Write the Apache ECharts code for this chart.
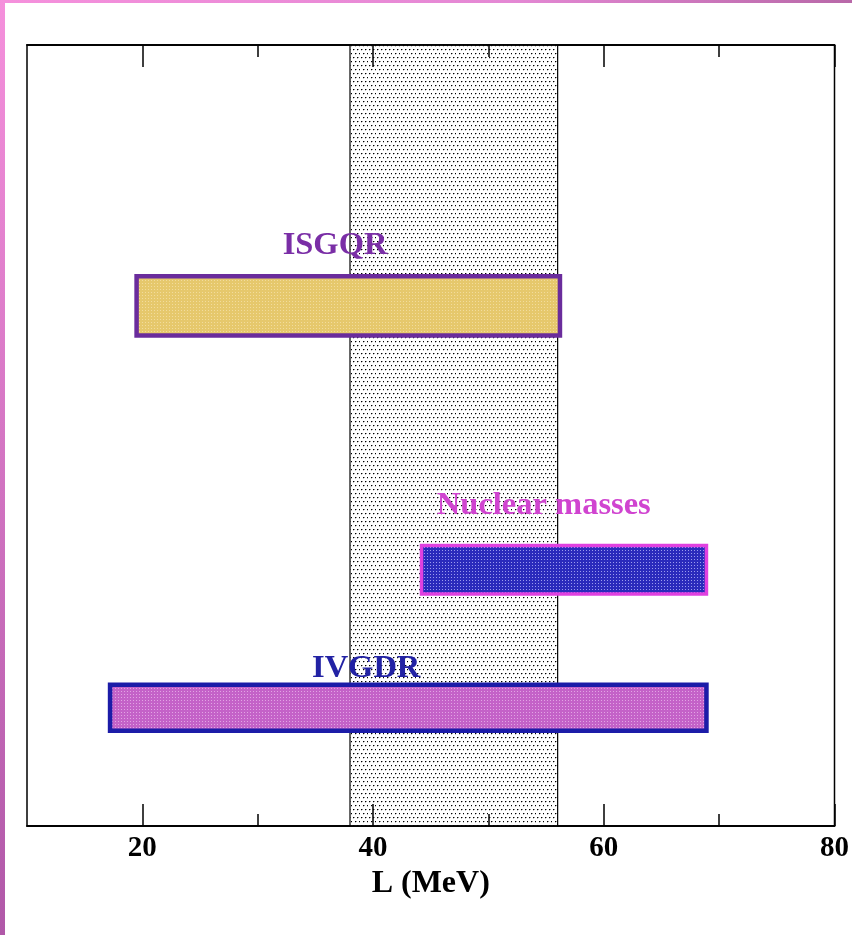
<!DOCTYPE html>
<html>
<head>
<meta charset="utf-8">
<script src="https://cdn.jsdelivr.net/npm/echarts@6/dist/echarts.min.js"></script>
<style>
html,body{margin:0;padding:0;background:#fff;}
#chart{width:852px;height:935px;}
</style>
</head>
<body>
<div id="chart"></div>
<script>
// ---- data ----
const categories = ['ISGQR', 'Nuclear masses', 'IVGDR'];
const lowL = [19.5, 44.2, 17.2];
const highL = [56.2, 68.9, 68.9];
const yLow = [6.28, 2.97, 1.22];
const yHigh = [7.04, 3.59, 1.81];
const labelL = [36.7, 54.8, 39.4];
const labelY = [7.43, 4.10, 2.01];
const bandRange = [38, 56];
const majorTicks = [20, 40, 60, 80];
const minorTicks = [30, 50, 70];
const xMin = 10, xMax = 80;

// ---- styles ----
const borderColors = ['#6a2c9c', '#e040e0', '#1c1ca8'];
const labelColors = ['#7a2ea6', '#d044d0', '#2222a4'];
const fillBase = ['#e6c86c', '#2a2abc', '#c462c8'];
const fillLight = ['#f2dc9c', '#9a9aee', '#e2a4e4'];

function gridPattern(base, light) {
  const c = document.createElement('canvas');
  c.width = 3; c.height = 3;
  const g = c.getContext('2d');
  g.fillStyle = base; g.fillRect(0, 0, 3, 3);
  g.fillStyle = light; g.fillRect(1, 1, 1, 1);
  return { image: c, repeat: 'repeat' };
}
function dotPattern() {
  const c = document.createElement('canvas');
  c.width = 8; c.height = 8;
  const g = c.getContext('2d');
  g.fillStyle = '#fff'; g.fillRect(0, 0, 8, 8);
  const dots = [[1, 1], [5, 1], [3, 5], [7, 5]];
  dots.forEach(d => {
    g.fillStyle = '#000'; g.fillRect(d[0], d[1], 1, 1);
    g.fillStyle = '#9a9a9a'; g.fillRect(d[0] + 1, d[1], 1, 1);
    g.fillStyle = '#c4c4c4'; g.fillRect(d[0], d[1] + 1, 1, 1);
  });
  return { image: c, repeat: 'repeat' };
}
const patterns = fillBase.map((b, i) => gridPattern(b, fillLight[i]));
const bandPattern = dotPattern();

const serif = '"Liberation Serif", "Times New Roman", serif';

function mkAxis(pos, ticks, len, withLabel) {
  const a = {
    type: 'value', position: pos, min: xMin, max: xMax, interval: 10, z: 5,
    axisLine: { show: true, lineStyle: { color: '#000', width: 1.5 } },
    axisTick: { show: true, inside: true, length: len, customValues: ticks, lineStyle: { color: '#000', width: 1.5 } },
    axisLabel: { show: false },
    splitLine: { show: false }
  };
  if (withLabel) {
    a.axisLabel = { show: true, customValues: majorTicks, fontFamily: serif, fontWeight: 'bold', fontSize: 29, color: '#000', margin: 8 };
    a.name = 'L (MeV)';
    a.nameLocation = 'middle';
    a.nameGap = 41;
    a.nameTextStyle = { fontFamily: serif, fontWeight: 'bold', fontSize: 32, color: '#000' };
  }
  return a;
}

const chart = echarts.init(document.getElementById('chart'), null, { renderer: 'canvas' });
chart.setOption({
  animation: false,
  backgroundColor: '#fff',
  graphic: [
    { type: 'rect', z: 100, shape: { x: 0, y: 0, width: 852, height: 3 },
      style: { fill: { type: 'linear', x: 0, y: 0, x2: 1, y2: 0, colorStops: [{ offset: 0, color: '#f590dc' }, { offset: 0.6, color: '#e488d4' }, { offset: 1, color: '#b868a8' }] } } },
    { type: 'rect', z: 100, shape: { x: 0, y: 0, width: 5, height: 935 },
      style: { fill: { type: 'linear', x: 0, y: 0, x2: 0, y2: 1, colorStops: [{ offset: 0, color: '#f590dc' }, { offset: 1, color: '#b058a8' }] } } }
  ],
  grid: { left: 27, right: 17, top: 45, bottom: 109, show: true, borderColor: '#000', borderWidth: 1.5, backgroundColor: '#fff' },
  xAxis: [
    mkAxis('bottom', majorTicks, 22, true),
    mkAxis('bottom', minorTicks, 12, false),
    mkAxis('top', majorTicks, 22, false),
    mkAxis('top', minorTicks, 12, false)
  ],
  yAxis: { type: 'value', min: 0, max: 10, show: false },
  series: [
    {
      type: 'custom', xAxisIndex: 0, yAxisIndex: 0, z: 2,
      data: [[bandRange[0], bandRange[1]]],
      renderItem: function (params, api) {
        const p0 = api.coord([api.value(0), 10]);
        const p1 = api.coord([api.value(1), 0]);
        return { type: 'group', children: [
          { type: 'rect', shape: { x: p0[0], y: p0[1], width: p1[0] - p0[0], height: p1[1] - p0[1] }, style: { fill: bandPattern } },
          { type: 'line', shape: { x1: p0[0], y1: p0[1], x2: p0[0], y2: p1[1] }, style: { stroke: '#000', lineWidth: 1.2 } },
          { type: 'line', shape: { x1: p1[0], y1: p0[1], x2: p1[0], y2: p1[1] }, style: { stroke: '#000', lineWidth: 1.2 } }
        ] };
      }
    },
    {
      type: 'custom', xAxisIndex: 0, yAxisIndex: 0, z: 3,
      data: categories.map((c, i) => [lowL[i], highL[i], yLow[i], yHigh[i], labelL[i], labelY[i]]),
      renderItem: function (params, api) {
        const i = params.dataIndex;
        const p0 = api.coord([api.value(0), api.value(3)]);
        const p1 = api.coord([api.value(1), api.value(2)]);
        const lp = api.coord([api.value(4), api.value(5)]);
        return { type: 'group', children: [
          { type: 'rect', shape: { x: p0[0], y: p0[1], width: p1[0] - p0[0], height: p1[1] - p0[1] },
            style: { fill: patterns[i], stroke: borderColors[i], lineWidth: i === 1 ? 3.5 : 4.5 } },
          { type: 'text', style: { text: categories[i], x: lp[0], y: lp[1], align: 'center', verticalAlign: 'middle',
            font: 'bold 32.5px ' + serif, fill: labelColors[i] } }
        ] };
      }
    }
  ]
});
</script>
</body>
</html>
